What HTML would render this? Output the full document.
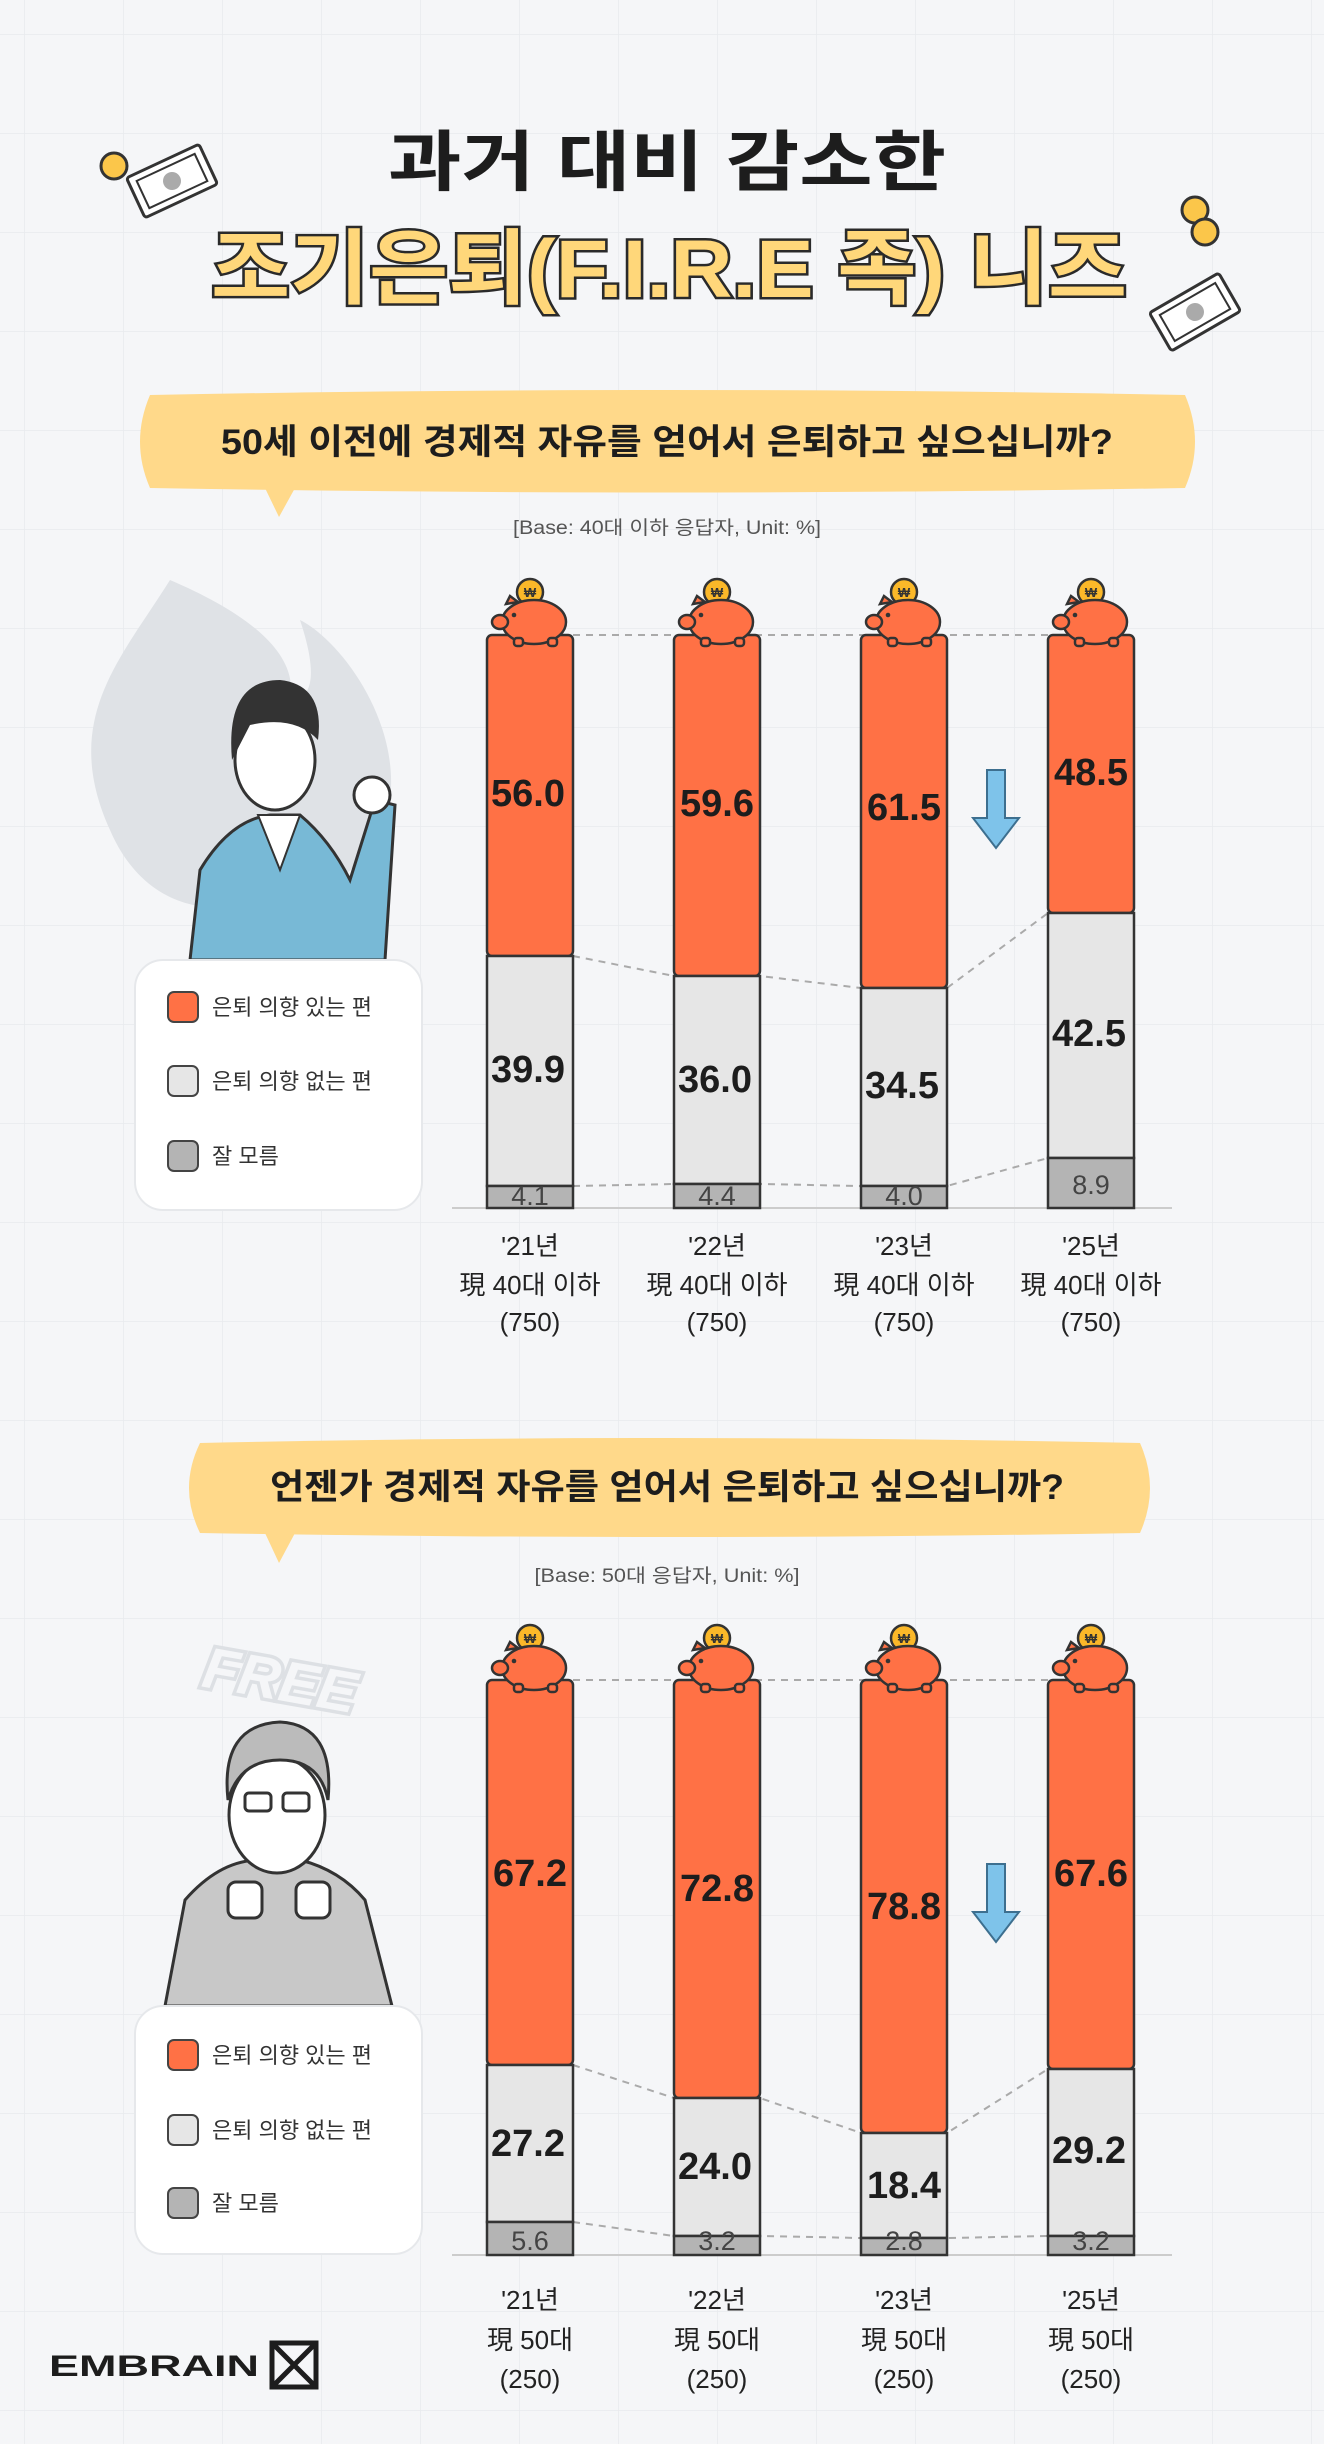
<!DOCTYPE html>
<html><head><meta charset="utf-8"><style>
html,body{margin:0;padding:0;background:#f5f6f8;}
svg{display:block;}
text{font-family:"Liberation Sans","Noto Sans CJK KR",sans-serif;}
</style></head><body>
<svg width="1324" height="2444" viewBox="0 0 1324 2444" xmlns="http://www.w3.org/2000/svg">
<defs>
<pattern id="grid" x="24" y="34" width="99" height="99" patternUnits="userSpaceOnUse">
<path d="M0 0H99M0 0V99" stroke="#e8eaee" stroke-width="1.5" fill="none"/>
</pattern>
<g id="pig">
<circle cx="0" cy="-48" r="13" fill="#fbb829" stroke="#333" stroke-width="2.5"/>
<text x="0" y="-43" font-size="13" font-weight="bold" text-anchor="middle" fill="#333">₩</text>
<path d="M-24 -36 l4 -8 l8 6 z" fill="#ff7145" stroke="#333" stroke-width="2.5"/>
<ellipse cx="4" cy="-18" rx="32" ry="22" fill="#ff7145" stroke="#333" stroke-width="2.5"/>
<ellipse cx="-30" cy="-18" rx="8" ry="7" fill="#ff7145" stroke="#333" stroke-width="2.5"/>
<rect x="-16" y="-2" width="9" height="8" rx="3" fill="#ff7145" stroke="#333" stroke-width="2.5"/>
<rect x="18" y="-2" width="9" height="8" rx="3" fill="#ff7145" stroke="#333" stroke-width="2.5"/>
<circle cx="-16" cy="-25" r="2.3" fill="#333"/>
</g>
<g id="bill">
<rect x="-40" y="-22" width="80" height="44" rx="3" fill="#fff" stroke="#333" stroke-width="3"/>
<rect x="-32" y="-15" width="64" height="30" fill="none" stroke="#333" stroke-width="2"/>
<circle cx="0" cy="0" r="9" fill="#aaa"/>
</g>
</defs>
<rect width="1324" height="2444" fill="#f5f6f8"/>
<rect width="1324" height="2444" fill="url(#grid)"/>

<!-- Title -->
<text x="667" y="185" font-size="66" font-weight="bold" text-anchor="middle" fill="#1d1d1d" textLength="558" lengthAdjust="spacingAndGlyphs">과거 대비 감소한</text>
<text x="669" y="297" font-size="82" font-weight="bold" text-anchor="middle" fill="#ffd77a" stroke="#2a2a2a" stroke-width="5" paint-order="stroke" textLength="916" lengthAdjust="spacingAndGlyphs">조기은퇴(F.I.R.E 족) 니즈</text>
<circle cx="114" cy="166" r="13" fill="#fbc64a" stroke="#333" stroke-width="3"/>
<use href="#bill" transform="translate(172,181) rotate(-25)"/>
<circle cx="1195" cy="210" r="13" fill="#fbc64a" stroke="#333" stroke-width="3"/>
<circle cx="1205" cy="232" r="13" fill="#fbc64a" stroke="#333" stroke-width="3"/>
<use href="#bill" transform="translate(1195,312) rotate(-30)"/>

<!-- Chart 1 bubble -->
<path d="M150 395 Q667 385 1185 395 Q1205 442 1185 488 Q667 497 150 488 Q130 442 150 395 Z" fill="#ffd98a"/>
<path d="M265 488 L279 517 L295 488 Z" fill="#ffd98a"/>
<text x="667" y="454" font-size="35" font-weight="bold" text-anchor="middle" fill="#1d1d1d" textLength="892" lengthAdjust="spacingAndGlyphs">50세 이전에 경제적 자유를 얻어서 은퇴하고 싶으십니까?</text>
<text x="667" y="534" font-size="19" text-anchor="middle" fill="#555" textLength="308" lengthAdjust="spacingAndGlyphs">[Base: 40대 이하 응답자, Unit: %]</text>

<!-- Person 1 (approx) -->
<path d="M170 580 C120 660 60 720 110 830 C140 900 200 920 260 900 C330 900 380 860 390 800 C400 720 340 640 300 620 C320 680 310 700 290 700 C300 650 240 610 170 580 Z" fill="#dfe2e6"/>
<path d="M190 960 L200 870 Q230 820 270 815 L300 815 Q330 840 350 880 L375 800 L395 805 L385 960 Z" fill="#78b9d6" stroke="#333" stroke-width="3"/>
<path d="M258 815 L280 870 L300 815 Z" fill="#fff" stroke="#333" stroke-width="2"/>
<ellipse cx="275" cy="760" rx="40" ry="50" fill="#fff" stroke="#333" stroke-width="3"/>
<path d="M232 760 Q225 680 280 680 Q325 685 318 740 Q295 715 250 725 Z" fill="#333"/>
<circle cx="372" cy="795" r="18" fill="#fff" stroke="#333" stroke-width="3"/>

<!-- Legend 1 -->
<rect x="135" y="960" width="287" height="250" rx="28" fill="#fff" stroke="#e6e8eb" stroke-width="2"/>
<rect x="168" y="992" width="30" height="30" rx="6" fill="#ff7145" stroke="#444" stroke-width="2"/>
<rect x="168" y="1066" width="30" height="30" rx="6" fill="#e6e6e6" stroke="#444" stroke-width="2"/>
<rect x="168" y="1141" width="30" height="30" rx="6" fill="#b4b4b4" stroke="#444" stroke-width="2"/>
<text x="212" y="1015" font-size="22" fill="#333">은퇴 의향 있는 편</text>
<text x="212" y="1089" font-size="22" fill="#333">은퇴 의향 없는 편</text>
<text x="212" y="1164" font-size="22" fill="#333">잘 모름</text>

<!-- Chart 1 -->
<g stroke="#aaa" stroke-width="2" stroke-dasharray="7 6" fill="none">
<line x1="573" y1="635" x2="1048" y2="635"/>
<polyline points="573,956 674,976 760,976 861,988 947,988 1048,913"/>
<polyline points="573,1186 674,1184 760,1184 861,1186 947,1186 1048,1158"/>
</g>
<line x1="452" y1="1208" x2="1172" y2="1208" stroke="#ccc" stroke-width="2"/>
<g stroke="#333" stroke-width="2.5">
<rect x="487" y="635" width="86" height="321" fill="#ff7145" rx="5"/>
<rect x="487" y="956" width="86" height="230" fill="#e6e6e6"/>
<rect x="487" y="1186" width="86" height="22" fill="#b4b4b4"/>
<rect x="674" y="635" width="86" height="341" fill="#ff7145" rx="5"/>
<rect x="674" y="976" width="86" height="208" fill="#e6e6e6"/>
<rect x="674" y="1184" width="86" height="24" fill="#b4b4b4"/>
<rect x="861" y="635" width="86" height="353" fill="#ff7145" rx="5"/>
<rect x="861" y="988" width="86" height="198" fill="#e6e6e6"/>
<rect x="861" y="1186" width="86" height="22" fill="#b4b4b4"/>
<rect x="1048" y="635" width="86" height="278" fill="#ff7145" rx="5"/>
<rect x="1048" y="913" width="86" height="245" fill="#e6e6e6"/>
<rect x="1048" y="1158" width="86" height="50" fill="#b4b4b4"/>
</g>
<use href="#pig" x="530" y="640"/><use href="#pig" x="717" y="640"/><use href="#pig" x="904" y="640"/><use href="#pig" x="1091" y="640"/>
<g font-size="38" font-weight="bold" fill="#1d1d1d" text-anchor="middle">
<text x="528" y="806">56.0</text><text x="717" y="816">59.6</text><text x="904" y="820">61.5</text><text x="1091" y="785">48.5</text>
<text x="528" y="1082">39.9</text><text x="715" y="1092">36.0</text><text x="902" y="1098">34.5</text><text x="1089" y="1046">42.5</text>
</g>
<g font-size="27" fill="#444" text-anchor="middle">
<text x="530" y="1205">4.1</text><text x="717" y="1205">4.4</text><text x="904" y="1205">4.0</text><text x="1091" y="1194">8.9</text>
</g>
<path d="M987 770 h18 v48 h14 l-23 30 l-23 -30 h14 z" fill="#7ec3ea" stroke="#3d6f8f" stroke-width="2"/>
<g font-size="26" fill="#222" text-anchor="middle">
<text x="530" y="1255">'21년</text><text x="530" y="1294">現 40대 이하</text><text x="530" y="1331">(750)</text>
<text x="717" y="1255">'22년</text><text x="717" y="1294">現 40대 이하</text><text x="717" y="1331">(750)</text>
<text x="904" y="1255">'23년</text><text x="904" y="1294">現 40대 이하</text><text x="904" y="1331">(750)</text>
<text x="1091" y="1255">'25년</text><text x="1091" y="1294">現 40대 이하</text><text x="1091" y="1331">(750)</text>
</g>

<!-- Chart 2 bubble -->
<path d="M200 1443 Q667 1433 1140 1443 Q1160 1488 1140 1533 Q667 1541 200 1533 Q178 1488 200 1443 Z" fill="#ffd98a"/>
<path d="M265 1533 L279 1563 L295 1533 Z" fill="#ffd98a"/>
<text x="667" y="1499" font-size="35" font-weight="bold" text-anchor="middle" fill="#1d1d1d" textLength="794" lengthAdjust="spacingAndGlyphs">언젠가 경제적 자유를 얻어서 은퇴하고 싶으십니까?</text>
<text x="667" y="1582" font-size="19" text-anchor="middle" fill="#555" textLength="265" lengthAdjust="spacingAndGlyphs">[Base: 50대 응답자, Unit: %]</text>

<!-- Person 2 (approx) -->
<text x="280" y="1700" font-size="58" font-weight="bold" font-style="italic" fill="#f5f6f8" stroke="#dde0e4" stroke-width="7" paint-order="stroke" text-anchor="middle" transform="rotate(10 280 1680)">FREE</text>
<path d="M165 2006 L185 1900 Q220 1860 260 1860 L300 1860 Q340 1870 365 1900 L392 2006 Z" fill="#c8c8c8" stroke="#333" stroke-width="3"/>
<ellipse cx="277" cy="1815" rx="48" ry="58" fill="#fff" stroke="#333" stroke-width="3"/>
<path d="M228 1800 Q220 1725 280 1722 Q335 1725 328 1800 Q320 1760 280 1760 Q240 1760 228 1800 Z" fill="#bbb" stroke="#333" stroke-width="3"/>
<rect x="245" y="1793" width="26" height="18" rx="4" fill="none" stroke="#333" stroke-width="3"/>
<rect x="283" y="1793" width="26" height="18" rx="4" fill="none" stroke="#333" stroke-width="3"/>
<rect x="228" y="1882" width="34" height="36" rx="8" fill="#fff" stroke="#333" stroke-width="3"/>
<rect x="296" y="1882" width="34" height="36" rx="8" fill="#fff" stroke="#333" stroke-width="3"/>

<!-- Legend 2 -->
<rect x="135" y="2006" width="287" height="248" rx="28" fill="#fff" stroke="#e6e8eb" stroke-width="2"/>
<rect x="168" y="2040" width="30" height="30" rx="6" fill="#ff7145" stroke="#444" stroke-width="2"/>
<rect x="168" y="2115" width="30" height="30" rx="6" fill="#e6e6e6" stroke="#444" stroke-width="2"/>
<rect x="168" y="2188" width="30" height="30" rx="6" fill="#b4b4b4" stroke="#444" stroke-width="2"/>
<text x="212" y="2063" font-size="22" fill="#333">은퇴 의향 있는 편</text>
<text x="212" y="2138" font-size="22" fill="#333">은퇴 의향 없는 편</text>
<text x="212" y="2211" font-size="22" fill="#333">잘 모름</text>

<!-- Chart 2 -->
<g stroke="#aaa" stroke-width="2" stroke-dasharray="7 6" fill="none">
<line x1="573" y1="1680" x2="1048" y2="1680"/>
<polyline points="573,2065 674,2098 760,2098 861,2133 947,2133 1048,2069"/>
<polyline points="573,2222 674,2236 760,2236 861,2238 947,2238 1048,2236"/>
</g>
<line x1="452" y1="2255" x2="1172" y2="2255" stroke="#ccc" stroke-width="2"/>
<g stroke="#333" stroke-width="2.5">
<rect x="487" y="1680" width="86" height="385" fill="#ff7145" rx="5"/>
<rect x="487" y="2065" width="86" height="157" fill="#e6e6e6"/>
<rect x="487" y="2222" width="86" height="33" fill="#b4b4b4"/>
<rect x="674" y="1680" width="86" height="418" fill="#ff7145" rx="5"/>
<rect x="674" y="2098" width="86" height="138" fill="#e6e6e6"/>
<rect x="674" y="2236" width="86" height="19" fill="#b4b4b4"/>
<rect x="861" y="1680" width="86" height="453" fill="#ff7145" rx="5"/>
<rect x="861" y="2133" width="86" height="105" fill="#e6e6e6"/>
<rect x="861" y="2238" width="86" height="17" fill="#b4b4b4"/>
<rect x="1048" y="1680" width="86" height="389" fill="#ff7145" rx="5"/>
<rect x="1048" y="2069" width="86" height="167" fill="#e6e6e6"/>
<rect x="1048" y="2236" width="86" height="19" fill="#b4b4b4"/>
</g>
<use href="#pig" x="530" y="1686"/><use href="#pig" x="717" y="1686"/><use href="#pig" x="904" y="1686"/><use href="#pig" x="1091" y="1686"/>
<g font-size="38" font-weight="bold" fill="#1d1d1d" text-anchor="middle">
<text x="530" y="1886">67.2</text><text x="717" y="1901">72.8</text><text x="904" y="1919">78.8</text><text x="1091" y="1886">67.6</text>
<text x="528" y="2156">27.2</text><text x="715" y="2179">24.0</text><text x="904" y="2198">18.4</text><text x="1089" y="2163">29.2</text>
</g>
<g font-size="27" fill="#444" text-anchor="middle">
<text x="530" y="2250">5.6</text><text x="717" y="2250">3.2</text><text x="904" y="2250">2.8</text><text x="1091" y="2250">3.2</text>
</g>
<path d="M987 1864 h18 v48 h14 l-23 30 l-23 -30 h14 z" fill="#7ec3ea" stroke="#3d6f8f" stroke-width="2"/>
<g font-size="26" fill="#222" text-anchor="middle">
<text x="530" y="2309">'21년</text><text x="530" y="2349">現 50대</text><text x="530" y="2388">(250)</text>
<text x="717" y="2309">'22년</text><text x="717" y="2349">現 50대</text><text x="717" y="2388">(250)</text>
<text x="904" y="2309">'23년</text><text x="904" y="2349">現 50대</text><text x="904" y="2388">(250)</text>
<text x="1091" y="2309">'25년</text><text x="1091" y="2349">現 50대</text><text x="1091" y="2388">(250)</text>
</g>

<!-- Logo -->
<text x="49" y="2376" font-size="30" font-weight="bold" fill="#1d1d1d" textLength="210" lengthAdjust="spacingAndGlyphs">EMBRAIN</text>
<g transform="translate(272,2343)" stroke="#1d1d1d" stroke-width="5" fill="none">
<rect x="0" y="0" width="44" height="44"/>
<path d="M0 0 L44 44 M44 0 L0 44"/>
</g>
</svg>
</body></html>
